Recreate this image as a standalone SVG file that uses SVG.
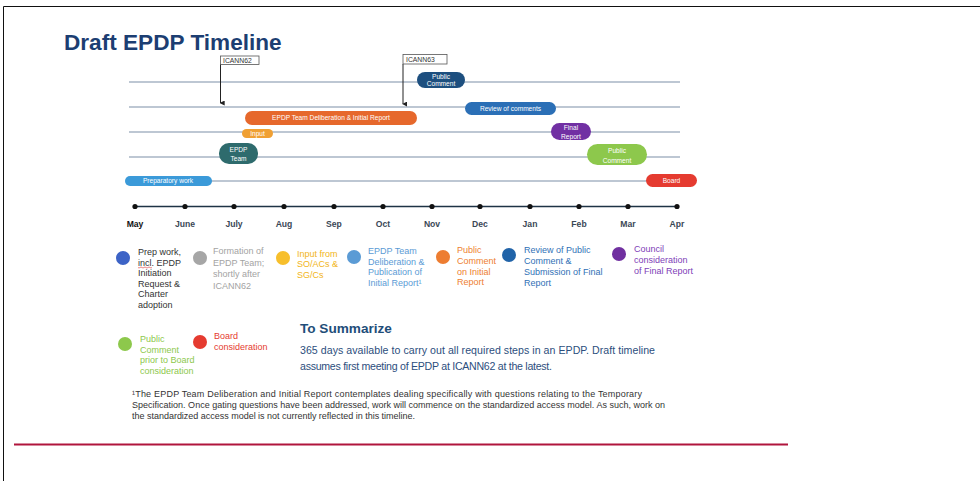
<svg xmlns="http://www.w3.org/2000/svg" width="980" height="481" viewBox="0 0 980 481">
<defs>
<marker id="arr" viewBox="0 0 6 6" refX="3" refY="5" markerWidth="5" markerHeight="5" orient="auto-start-reverse" markerUnits="userSpaceOnUse"><path d="M0,0 L6,0 L3,6 z" fill="#222"/></marker>
<style>
text{font-family:"Liberation Sans",Arial,sans-serif}
.lane{stroke:#a7b5c4;stroke-width:1.6;fill:none}
.pt{fill:#fff;font-size:6.6px;text-anchor:middle}
.mon{font-size:8.6px;font-weight:bold;fill:#3a4756;text-anchor:middle}
.lg{font-size:9px}
.ic{font-size:6.8px;fill:#333}
</style>
</defs>
<rect x="0" y="0" width="980" height="481" fill="#fff"/>
<path d="M3.5,481 V6.5 H980" fill="none" stroke="#111" stroke-width="1"/>
<line x1="14" y1="444.5" x2="788" y2="444.5" stroke="#b0153c" stroke-width="2"/>

<text x="64" y="50" font-size="22.6" font-weight="bold" fill="#1c3e72">Draft EPDP Timeline</text>

<g id="lanes">
<line class="lane" x1="129" y1="82" x2="680" y2="82"/>
<line class="lane" x1="129" y1="107" x2="680" y2="107"/>
<line class="lane" x1="129" y1="132" x2="680" y2="132"/>
<line class="lane" x1="129" y1="157" x2="680" y2="157"/>
<line class="lane" x1="129" y1="181" x2="680" y2="181"/>
</g>

<g id="axis">
<line x1="135" y1="206.5" x2="677" y2="206.5" stroke="#1e3345" stroke-width="1.5"/>
<g fill="#111">
<circle cx="135" cy="206.5" r="2.6"/><circle cx="185" cy="206.5" r="2.6"/><circle cx="234" cy="206.5" r="2.6"/><circle cx="284" cy="206.5" r="2.6"/><circle cx="334" cy="206.5" r="2.6"/><circle cx="383" cy="206.5" r="2.6"/><circle cx="432" cy="206.5" r="2.6"/><circle cx="480" cy="206.5" r="2.6"/><circle cx="530" cy="206.5" r="2.6"/><circle cx="579" cy="206.5" r="2.6"/><circle cx="628" cy="206.5" r="2.6"/><circle cx="677" cy="206.5" r="2.6"/>
</g>
<text class="mon" x="135" y="226.5" style="fill:#111">May</text>
<text class="mon" x="185" y="226.5">June</text>
<text class="mon" x="234" y="226.5">July</text>
<text class="mon" x="284" y="226.5">Aug</text>
<text class="mon" x="334" y="226.5">Sep</text>
<text class="mon" x="383" y="226.5">Oct</text>
<text class="mon" x="432" y="226.5">Nov</text>
<text class="mon" x="480" y="226.5">Dec</text>
<text class="mon" x="530" y="226.5">Jan</text>
<text class="mon" x="579" y="226.5">Feb</text>
<text class="mon" x="628" y="226.5">Mar</text>
<text class="mon" x="677" y="226.5">Apr</text>
</g>

<g id="connectors">
<line x1="220.5" y1="64" x2="220.5" y2="103" stroke="#222" stroke-width="1" marker-end="url(#arr)"/>
<line x1="403" y1="64" x2="403" y2="104" stroke="#222" stroke-width="1" marker-end="url(#arr)"/>
</g>

<g id="icann62">
<rect x="220.5" y="56" width="38.5" height="8.5" fill="#fff" stroke="#555" stroke-width="0.8"/>
<text class="ic" x="223" y="62.8">ICANN62</text>
</g>
<g id="icann63">
<rect x="403" y="54.5" width="44" height="9.5" fill="#fff" stroke="#555" stroke-width="0.8"/>
<text class="ic" x="406" y="62">ICANN63</text>
</g>

<g id="prep">
<rect x="125" y="176" width="87" height="10" rx="5" fill="#3b9ad9"/>
<text class="pt" x="168" y="183.3">Preparatory work</text>
</g>
<g id="epdp-team">
<rect x="219" y="143" width="39" height="21" rx="10" fill="#2e6b6d"/>
<text class="pt" x="238.5" y="152.3">EPDP</text>
<text class="pt" x="238.5" y="161">Team</text>
</g>
<g id="input">
<rect x="242" y="129" width="31" height="9" rx="4.5" fill="#f0a033"/>
<text class="pt" x="257.5" y="135.8">Input</text>
</g>
<g id="deliberation">
<rect x="245" y="111" width="172" height="14" rx="7" fill="#e6682c"/>
<text class="pt" x="331" y="120.3">EPDP Team Deliberation &amp; Initial Report</text>
</g>
<g id="public-comment-1">
<rect x="417" y="72" width="48" height="16" rx="8" fill="#1d4f7f"/>
<text class="pt" x="441" y="78.6">Public</text>
<text class="pt" x="441" y="86.4">Comment</text>
</g>
<g id="review">
<rect x="465" y="102" width="91" height="13" rx="6.5" fill="#2b6fb6"/>
<text class="pt" x="510.5" y="110.8">Review of comments</text>
</g>
<g id="final-report">
<rect x="551" y="123" width="40" height="17" rx="8.5" fill="#7130a3"/>
<text class="pt" x="571" y="129.6">Final</text>
<text class="pt" x="571" y="138.6">Report</text>
</g>
<g id="public-comment-2">
<rect x="587" y="144" width="60" height="21" rx="10.5" fill="#8dc84c"/>
<text class="pt" x="617" y="153.2">Public</text>
<text class="pt" x="617" y="162.6">Comment</text>
</g>
<g id="board">
<rect x="646" y="174" width="51" height="13" rx="6.5" fill="#e53b30"/>
<text class="pt" x="671.5" y="182.8">Board</text>
</g>

<g id="legend-prep">
<circle cx="123" cy="258" r="7" fill="#3c63c6"/>
<text class="lg" fill="#333"><tspan x="138" y="255">Prep work,</tspan><tspan x="138" y="265.6">incl. EPDP</tspan><tspan x="138" y="276.2">Initiation</tspan><tspan x="138" y="286.8">Request &amp;</tspan><tspan x="138" y="297.4">Charter</tspan><tspan x="138" y="308">adoption</tspan></text>
<path d="M138,267.5 q1,1 2,0 t2,0 t2,0 t2,0 t2,0 t2,0 t2,0" fill="none" stroke="#e03030" stroke-width="0.6"/>
</g>
<g id="legend-formation">
<circle cx="200" cy="258" r="7" fill="#a6a6a6"/>
<text class="lg" fill="#a3a3a3"><tspan x="213" y="254">Formation of</tspan><tspan x="213" y="265.6">EPDP Team;</tspan><tspan x="213" y="277.3">shortly after</tspan><tspan x="213" y="289">ICANN62</tspan></text>
</g>
<g id="legend-input">
<circle cx="283" cy="258" r="7" fill="#f7bf2c"/>
<text class="lg" fill="#f2b519"><tspan x="297" y="256.5">Input from</tspan><tspan x="297" y="267.3">SO/ACs &amp;</tspan><tspan x="297" y="278.1">SG/Cs</tspan></text>
</g>
<g id="legend-deliberation">
<circle cx="354" cy="257" r="7" fill="#5b9bd5"/>
<text class="lg" fill="#5b9bd5"><tspan x="368" y="254">EPDP Team</tspan><tspan x="368" y="264.7">Deliberation &amp;</tspan><tspan x="368" y="275.4">Publication of</tspan><tspan x="368" y="286.1">Initial Report¹</tspan></text>
</g>
<g id="legend-public-comment">
<circle cx="443" cy="257" r="7" fill="#ed7d31"/>
<text class="lg" fill="#ee8030"><tspan x="457" y="253.3">Public</tspan><tspan x="457" y="264">Comment</tspan><tspan x="457" y="274.7">on Initial</tspan><tspan x="457" y="285.4">Report</tspan></text>
</g>
<g id="legend-review">
<circle cx="509" cy="255" r="7" fill="#2063a8"/>
<text class="lg" fill="#2f70b6"><tspan x="524" y="253.3">Review of Public</tspan><tspan x="524" y="264.2">Comment &amp;</tspan><tspan x="524" y="275.2">Submission of Final</tspan><tspan x="524" y="286.2">Report</tspan></text>
</g>
<g id="legend-council">
<circle cx="619" cy="254" r="7" fill="#7030a0"/>
<text class="lg" fill="#8040b8"><tspan x="634" y="252.3">Council</tspan><tspan x="634" y="263">consideration</tspan><tspan x="634" y="273.7">of Final Report</tspan></text>
</g>
<g id="legend-public-board">
<circle cx="125" cy="344" r="7" fill="#8dc84c"/>
<text class="lg" fill="#8dc84c"><tspan x="140" y="342">Public</tspan><tspan x="140" y="352.7">Comment</tspan><tspan x="140" y="363.4">prior to Board</tspan><tspan x="140" y="374">consideration</tspan></text>
</g>
<g id="legend-board">
<circle cx="200" cy="342" r="7" fill="#e53b30"/>
<text class="lg" fill="#e53b30"><tspan x="214" y="339">Board</tspan><tspan x="214" y="350">consideration</tspan></text>
</g>

<g id="summary">
<text x="300" y="332.5" font-size="13.6" font-weight="bold" fill="#1f4e79">To Summarize</text>
<text x="300" y="353.5" font-size="10.6" fill="#2c4e7d" textLength="355">365 days available to carry out all required steps in an EPDP. Draft timeline</text>
<text x="300" y="370" font-size="10.6" fill="#2c4e7d" textLength="252">assumes first meeting of EPDP at ICANN62 at the latest.</text>
</g>

<g id="footnote" font-size="9" fill="#333">
<text x="132" y="396.5" textLength="510">¹The EPDP Team Deliberation and Initial Report contemplates dealing specifically with questions relating to the Temporary</text>
<text x="132" y="407.5" textLength="533">Specification. Once gating questions have been addressed, work will commence on the standardized access model.  As such, work on</text>
<text x="132" y="418.5" textLength="283">the standardized access model is not currently reflected in this timeline.</text>
</g>
</svg>
